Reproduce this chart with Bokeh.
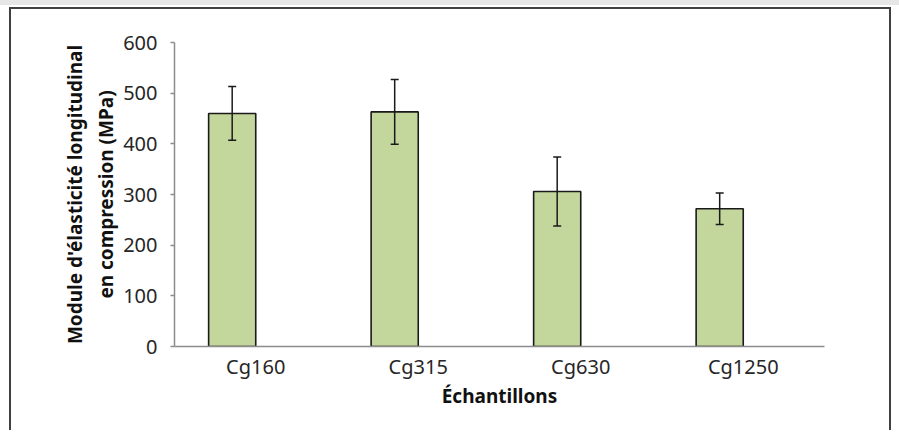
from bokeh.plotting import figure
from bokeh.models import ColumnDataSource, Range1d, FactorRange, Whisker, TeeHead
from bokeh.transform import dodge
from bokeh.embed import file_html
from bokeh.resources import INLINE

# Data
samples = ["Cg160", "Cg315", "Cg630", "Cg1250"]
modulus = [460, 463, 306, 272]
errors = [53, 64, 68, 31]
y_ticks = [0, 100, 200, 300, 400, 500, 600]

upper = [m + e for m, e in zip(modulus, errors)]
lower = [m - e for m, e in zip(modulus, errors)]
src = ColumnDataSource(dict(x=samples, top=modulus, upper=upper, lower=lower))

FONT = "Noto Sans"
W, H = 882, 423
OX, OY = 11, 9  # where the drawing area starts on the page

p = figure(
    x_range=FactorRange(*samples),
    y_range=Range1d(0, 600),
    width=W, height=H,
    output_backend="svg", toolbar_location=None,
    min_border_left=174 - OX, min_border_right=W - (824 - OX),
    min_border_top=42 - OY, min_border_bottom=H - (346 - OY),
)
# outer chart-area frame (open at the bottom) and the grey strip above it
p.styles = {
    "margin-left": "9px",
    "margin-top": "7px",
    "border-top": "2px solid #404040",
    "border-left": "2px solid #404040",
    "border-right": "2px solid #404040",
    "box-shadow": "0 -434px 0 9px #e6e6e6",
}

p.vbar(x=dodge("x", -0.145, range=p.x_range), top="top", width=0.29, source=src,
       fill_color="#c3d69b", line_color="#1a1a1a", line_width=1.6)

w = Whisker(base=dodge("x", -0.145, range=p.x_range), upper="upper", lower="lower",
            source=src, line_color="#1a1a1a", line_width=1.5, level="overlay",
            upper_head=TeeHead(size=8, line_color="#1a1a1a", line_width=1.5),
            lower_head=TeeHead(size=8, line_color="#1a1a1a", line_width=1.5))
p.add_layout(w)

p.xgrid.grid_line_color = None
p.ygrid.grid_line_color = None
p.outline_line_color = None
p.background_fill_color = "white"
p.border_fill_color = "white"

p.yaxis.ticker = y_ticks
for ax in (p.xaxis[0], p.yaxis[0]):
    ax.axis_line_color = "#8c8c8c"
    ax.axis_line_width = 1.5
    ax.major_tick_line_color = "#8c8c8c"
    ax.major_tick_line_width = 1.5
    ax.minor_tick_line_color = None
    ax.major_label_text_font = FONT
    ax.major_label_text_font_size = "20px"
    ax.major_label_text_color = "#262626"
    ax.axis_label_text_font = FONT
    ax.axis_label_text_font_style = "bold"
    ax.axis_label_text_font_size = "19px"
    ax.axis_label_text_color = "#111111"

p.xaxis.major_tick_line_color = None
p.xaxis.major_tick_out = 0
p.xaxis.major_tick_in = 0
p.xaxis.major_label_standoff = 6
p.xaxis.axis_label = "Échantillons"
p.xaxis.axis_label_standoff = 0

p.yaxis.major_tick_out = 4
p.yaxis.major_tick_in = 0
p.yaxis.major_label_standoff = 13
p.yaxis.axis_label = "Module d'élasticité longitudinal\nen compression (MPa)"
p.yaxis.axis_label_standoff = 1

open("out.html", "w").write(file_html(p, INLINE))
